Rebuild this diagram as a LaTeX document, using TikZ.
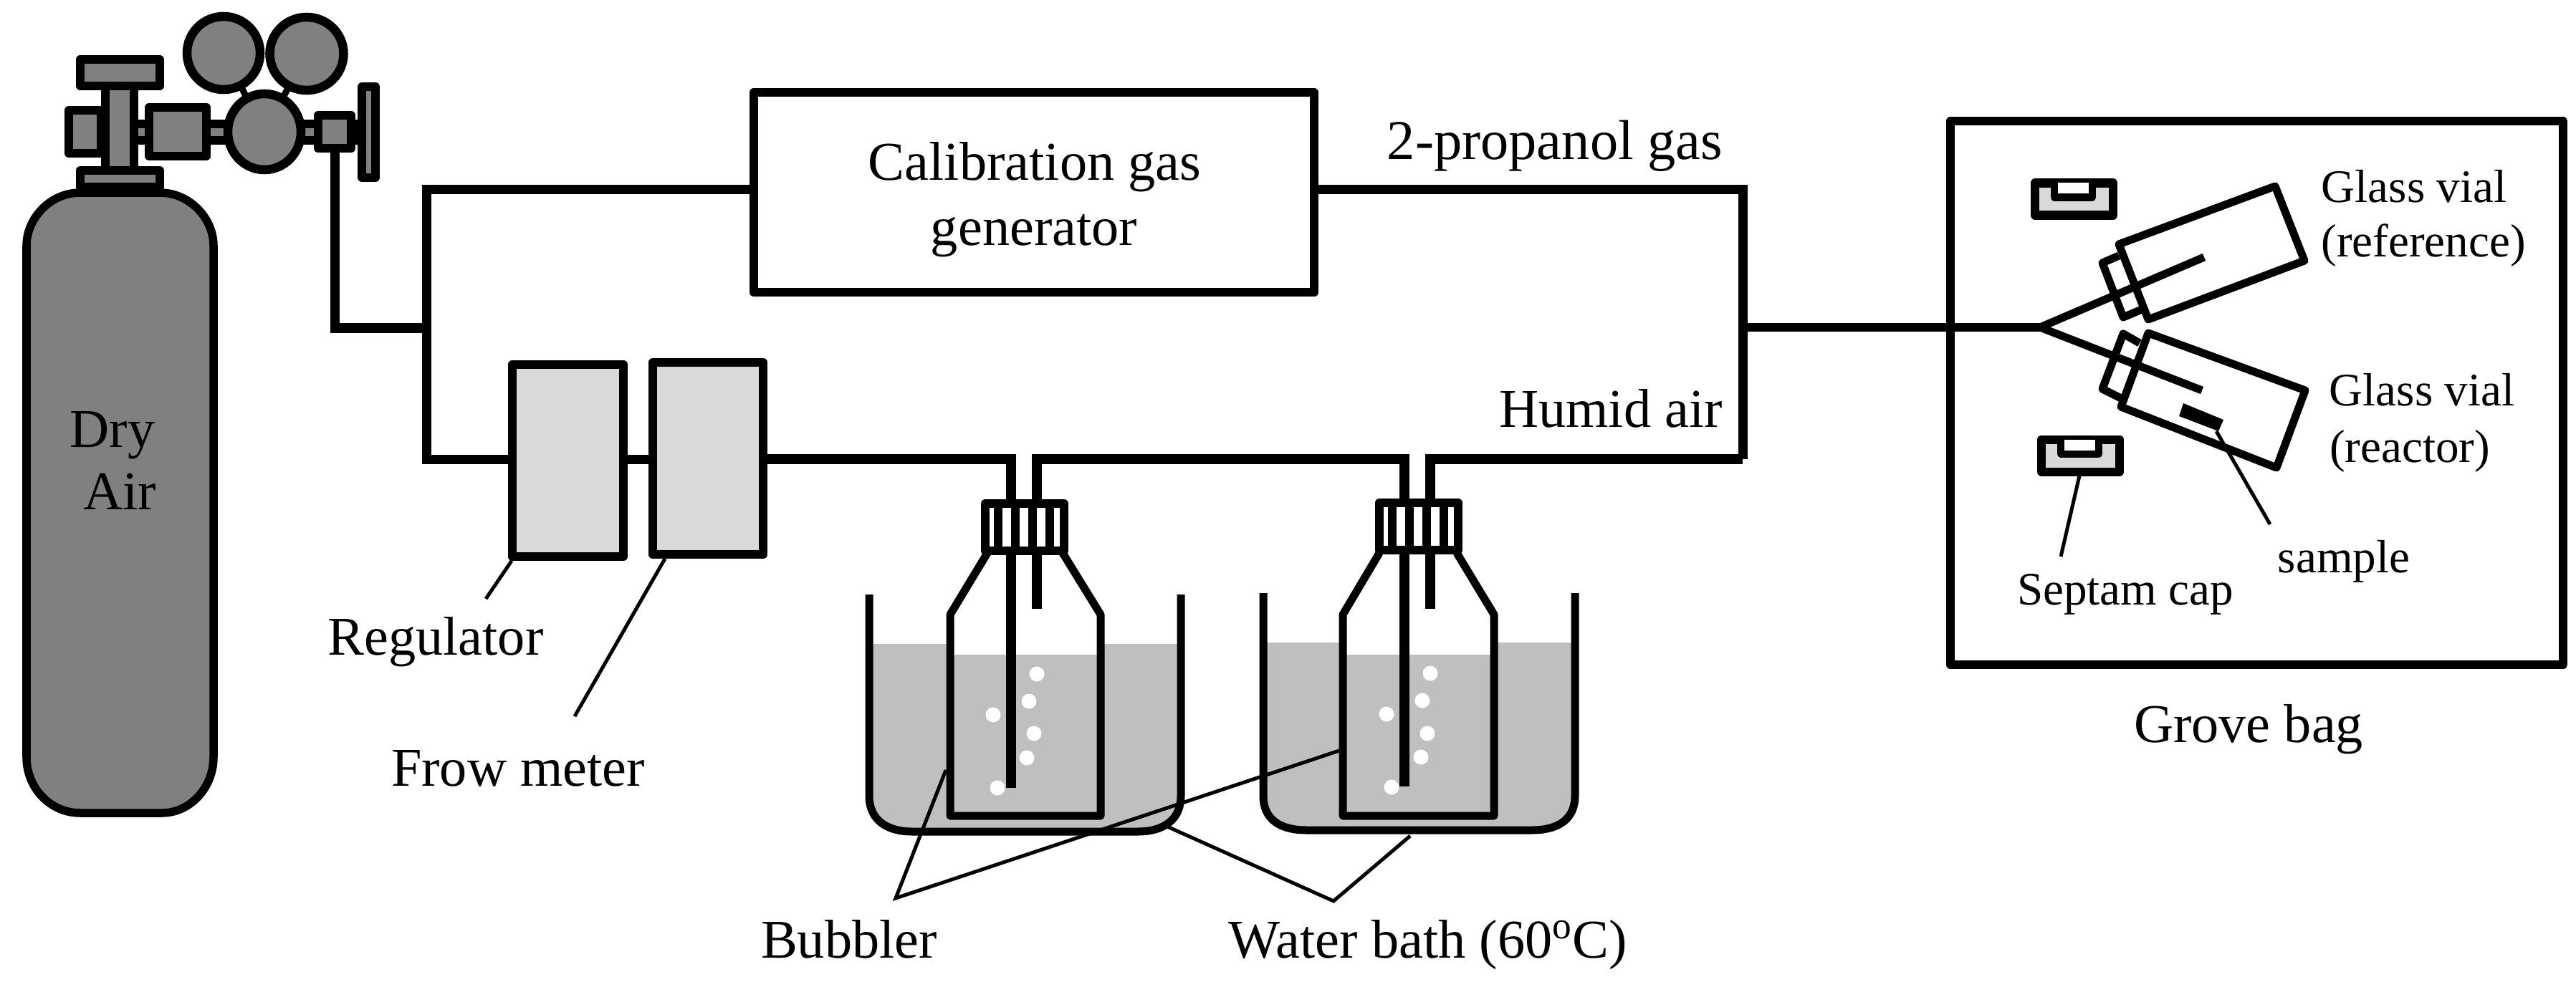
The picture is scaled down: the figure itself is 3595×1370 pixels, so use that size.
\documentclass[tikz,border=0pt]{standalone}
\usepackage{fontspec}
\setmainfont{Liberation Serif}
\usetikzlibrary{shapes.geometric}
\definecolor{metal}{HTML}{808080}
\definecolor{panel}{HTML}{D9D9D9}
\definecolor{water}{HTML}{BFBFBF}
\tikzset{
  part/.style={draw=black,fill=metal,line width=0.12cm,line join=round},
  gauge/.style={ellipse,draw=black,fill=metal,line width=0.125cm,inner sep=0,outer sep=0},
  box/.style={rectangle,draw=black,line width=0.12cm,inner sep=0,outer sep=0,line join=round},
  grey box/.style={box,fill=panel},
  pipe/.style={draw=black,line width=0.13cm,line join=miter},
  tube/.style={draw=black,line width=0.14cm},
  glass/.style={draw=black,line width=0.11cm,line join=round},
  leader/.style={draw=black,line width=0.05cm,line join=miter},
  bubble/.style={fill=white},
  big/.style={font=\fontsize{21.7}{25.9}\selectfont,anchor=base,inner sep=0,outer sep=0,align=center},
  small/.style={font=\fontsize{18.5}{22}\selectfont,anchor=base,inner sep=0,outer sep=0},
}
\newcommand{\bathpath}[5]{(#1,#3) -- (#1,1111) .. controls (#1,1145) and ({#1+25},#4) .. ({#1+60},#4) -- ({#2-60},#4) .. controls ({#2-25},#4) and (#2,1145) .. (#2,1111) -- (#2,#3)}
\newcommand{\bottle}[6]{%
  \path[fill=white] (#3,772) -- (#1,858) -- (#1,1139) -- (#2,1139) -- (#2,858) -- (#4,772) -- cycle;
  \fill[water] (#1,#5) rectangle (#2,1139);
  \draw[glass] (#3,772) -- (#1,858) -- (#1,1139) -- (#2,1139) -- (#2,858) -- (#4,772);
}
\newcommand{\capper}[2]{%
  \draw[box,fill=white] (#1,#2) rectangle ({#1+110},{#2+66});
  \foreach \s in {18,42,66,90} \draw[draw=black,line width=0.12cm] ({#1+\s},#2) -- ({#1+\s},{#2+66});
}
\newcommand{\septum}[2]{%
  \draw[box,fill=panel] (#1,#2) rectangle ({#1+109},{#2+45});
  \fill[white] ({#1+27},#2) rectangle ({#1+80},{#2+20});
  \draw[draw=black,line width=0.1cm,line join=round] ({#1+27},#2) -- ({#1+27},{#2+20}) -- ({#1+80},{#2+20}) -- ({#1+80},#2);
}
\begin{document}
\begin{tikzpicture}[x=0.01cm,y=-0.01cm]
\useasboundingbox (0,0) rectangle (3595,1370);

% ---------- gas cylinder
\draw[part,line width=0.115cm] (37,343) .. controls (37,305) and (70,269) .. (112,269) -- (223,269)
  .. controls (265,269) and (298,305) .. (298,343) -- (298,1057)
  .. controls (298,1100) and (265,1135) .. (226,1135) -- (112,1135)
  .. controls (70,1135) and (37,1100) .. (37,1057) -- cycle;
\node[big] (dry) at (157,624) {Dry};
\node[big] (air) at (167,711) {Air};

% ---------- valve and regulator
\draw[part] (187,173) rectangle (444,196);
\draw[part] (96,154) rectangle (141,214);
\draw[part] (147,120) rectangle (187,238);
\draw[part] (112,83) rectangle (223,120);
\draw[part] (112,238) rectangle (223,261);
\draw[part] (208,150) rectangle (288,218);
\fill[black] (490,167) rectangle (505,202);
\draw[part] (505,121) rectangle (524,248);
\node[gauge,minimum width=1.02cm,minimum height=1.02cm] (gaugeL) at (312,74) {};
\node[gauge,minimum width=1.03cm,minimum height=1.02cm] (gaugeR) at (428,75) {};
\node[gauge,minimum width=1.02cm,minimum height=1.06cm] (gaugeC) at (369,184) {};
\draw[draw=black,line width=0.09cm] (gaugeL) -- (gaugeC);
\draw[draw=black,line width=0.09cm] (gaugeR) -- (gaugeC);
\node[box,fill=metal,minimum width=0.46cm,minimum height=0.46cm] (outlet) at (467,184) {};

% ---------- main boxes
\node[box,minimum width=7.82cm,minimum height=2.79cm] (calib) at (1443,268.5) {};
\node[grey box,minimum width=1.55cm,minimum height=2.68cm] (reg) at (792.5,643) {};
\node[grey box,minimum width=1.54cm,minimum height=2.68cm] (flow) at (988,640) {};
\node[box,minimum width=8.55cm,minimum height=7.58cm] (bag) at (3149.5,548.5) {};
\node[big] (calibtxt) at (1444,252) {Calibration gas};
\node[big] (gentxt) at (1443,343) {generator};

% ---------- named pipe corners
\coordinate (feed) at (595,458);
\coordinate (topL) at (595,264.5);
\coordinate (botL) at (595,641);
\coordinate (topR) at (2432,264.5);
\coordinate (botR) at (2432,641);
\coordinate (exit) at (2432,457);
\coordinate (split) at (2847,457);
\coordinate (inA) at (1411,641);
\coordinate (inAend) at (1411,1100);
\coordinate (outA) at (1447,641);
\coordinate (outAend) at (1447,850);
\coordinate (inB) at (1960,641);
\coordinate (inBend) at (1960,1098);
\coordinate (outB) at (1996,641);
\coordinate (outBend) at (1996,850);
\coordinate (vialAend) at (3076,359);
\coordinate (vialBend) at (3073,545);

% ---------- water baths and bubblers
\fill[water] (1213,899) -- \bathpath{1213}{1648}{899}{1161}{} -- cycle;
\fill[water] (1763,897) -- \bathpath{1763}{2198}{897}{1159}{} -- cycle;
\draw[glass] \bathpath{1213}{1648}{830}{1161}{};
\draw[glass] \bathpath{1763}{2198}{828}{1159}{};
\bottle{1326}{1536}{1378}{1483}{914}{0}
\bottle{1874}{2085}{1925}{2033}{914}{0}
\foreach \p/\q in {1447/941,1436/979,1386/998,1443/1024,1433/1058,1392/1100,
                   1996/940,1985/978,1935/997,1992/1024,1983/1057,1942/1099}
  \fill[bubble] (\p,\q) circle[radius=0.105cm];

% ---------- pipes
\draw[pipe] (outlet.south) |- (feed);
\draw[pipe] (calib.west |- topL) -- (topL) -- (botL) -- (reg.west |- botL);
\draw[pipe] (reg.east |- botL) -- (flow.west |- botL);
\draw[tube] (flow.east |- botL) -- (inA) -- (inAend);
\draw[tube] (outAend) -- (outA) -- (inB) -- (inBend);
\draw[tube] (outBend) -- (outB) -- (botR);
\draw[pipe] (botR) -- (topR) -- (calib.east |- topR);
\draw[line width=0.12cm,draw=black,line join=miter] (exit) -- (split);
\draw[pipe,line width=0.11cm] (vialAend) -- (split) -- (vialBend);
\capper{1375}{703}
\capper{1925}{702}

% ---------- glove bag contents
\draw[glass] (3175,260) -- (3216,364) -- (2998,446) -- (2957,341) -- cycle;
\draw[glass] (2957,357) -- (2934,367) -- (2963,443) -- (2989,432);
\draw[glass] (2998,465) -- (3217,545) -- (3177,653) -- (2960,568) -- cycle;
\draw[glass] (2986,479) -- (2963,466) -- (2934,543) -- (2960,556);
\fill[black] (3047,563) -- (3103,586) -- (3096,602) -- (3041,581) -- cycle;
\septum{2840}{255.5}
\septum{2849}{613.5}

% ---------- leader lines
\coordinate (regA) at (714,783);
\coordinate (regB) at (678,836);
\coordinate (flowA) at (928,780);
\coordinate (flowB) at (802,1000);
\coordinate (bubA) at (1320,1075);
\coordinate (bubB) at (1869,1048);
\coordinate (bubV) at (1250,1254);
\coordinate (bathA) at (1629,1154);
\coordinate (bathB) at (1968,1167);
\coordinate (bathV) at (1861,1258);
\coordinate (smpA) at (3093,602);
\coordinate (smpB) at (3168,732);
\coordinate (sepA) at (2902,664);
\coordinate (sepB) at (2876,777);
\draw[leader] (regA) -- (regB);
\draw[leader] (flowA) -- (flowB);
\draw[leader] (bubA) -- (bubV) -- (bubB);
\draw[leader] (bathA) -- (bathV) -- (bathB);
\draw[leader] (smpA) -- (smpB);
\draw[leader] (sepA) -- (sepB);

% ---------- labels
\node[big,font=\fontsize{22.3}{26}\selectfont] (prop) at (2170,223) {2-propanol gas};
\node[big] (humid) at (2248,596) {Humid air};
\node[big] (regtxt) at (608,914) {Regulator};
\node[big] (flowtxt) at (723,1097) {Frow meter};
\node[big] (bubtxt) at (1185,1337) {Bubbler};
\node[big] (bathtxt) at (1993,1337) {Water bath (60\textsuperscript{o}C)};
\node[big] (bagtxt) at (3138,1036) {Grove bag};
\node[small] (v1a) at (3369,283) {Glass vial};
\node[small] (v1b) at (3382,359) {(reference)};
\node[small] (v2a) at (3380,566) {Glass vial};
\node[small] (v2b) at (3363,645) {(reactor)};
\node[small] (smp) at (3271,799) {sample};
\node[small] (sep) at (2966,844) {Septam cap};
\end{tikzpicture}
\end{document}
